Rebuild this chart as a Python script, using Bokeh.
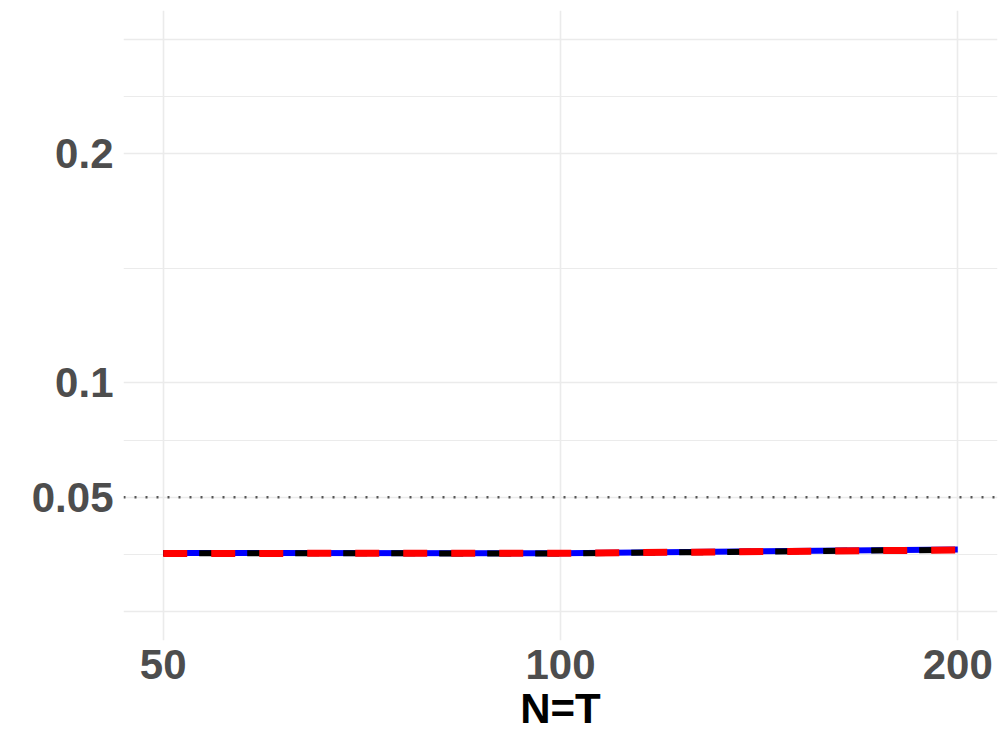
from bokeh.plotting import figure
from bokeh.models import Range1d, FixedTicker, Span, CustomJSTickFormatter
from bokeh.embed import file_html
from bokeh.resources import INLINE

# Data
nt = [50, 100, 200]
black_vals = [0.0256, 0.0255, 0.0271]
blue_vals = [0.0257, 0.0256, 0.0272]
red_vals = [0.0255, 0.0256, 0.0270]
x_ticks = [50, 100, 200]
y_ticks = [0.05, 0.1, 0.2]
y_grid_major = [0.0, 0.05, 0.1, 0.2, 0.25]
y_grid_minor = [0.025, 0.075, 0.15, 0.225]
ref_level = 0.05
x_title = "N=T"

FONT = "Liberation Sans"

p = figure(width=1000, height=745, output_backend="svg", toolbar_location=None,
           x_axis_type="log",
           x_range=Range1d(50 / 2 ** 0.1, 200 * 2 ** 0.1),
           y_range=Range1d(-0.0125, 0.2625),
           min_border_left=123, min_border_right=3, min_border_top=10,
           min_border_bottom=105)
p.outline_line_color = None
p.background_fill_color = "white"
p.border_fill_color = "white"

# grids
p.xgrid.ticker = FixedTicker(ticks=x_ticks)
p.xgrid.grid_line_color = "#ebebeb"
p.xgrid.grid_line_width = 1.6
p.ygrid.ticker = FixedTicker(ticks=y_grid_major, minor_ticks=y_grid_minor)
p.ygrid.grid_line_color = "#ebebeb"
p.ygrid.grid_line_width = 1.6
p.ygrid.minor_grid_line_color = "#ebebeb"
p.ygrid.minor_grid_line_width = 1.2

# axes
for ax in (p.xaxis[0], p.yaxis[0]):
    ax.axis_line_color = None
    ax.major_tick_line_color = None
    ax.minor_tick_line_color = None
    ax.major_tick_in = 0
    ax.major_tick_out = 0
    ax.minor_tick_in = 0
    ax.minor_tick_out = 0
    ax.major_label_text_font = FONT
    ax.major_label_text_font_style = "bold"
    ax.major_label_text_font_size = "42px"
    ax.major_label_text_color = "#4d4d4d"

p.xaxis.ticker = FixedTicker(ticks=x_ticks)
p.xaxis.formatter = CustomJSTickFormatter(code="return tick.toFixed(0);")
p.xaxis.major_label_standoff = 9
p.xaxis.axis_label = x_title
p.xaxis.axis_label_text_font = FONT
p.xaxis.axis_label_text_font_style = "bold"
p.xaxis.axis_label_text_font_size = "42px"
p.xaxis.axis_label_text_color = "black"
p.xaxis.axis_label_standoff = 3

p.yaxis.ticker = FixedTicker(ticks=y_ticks)
p.yaxis.formatter = CustomJSTickFormatter(code="return String(+tick.toFixed(3));")
p.yaxis.major_label_standoff = 10

# reference line
p.add_layout(Span(location=ref_level, dimension="width", line_color="#555555",
                  line_width=2.5, line_dash="2 9"))

# series
p.line(nt, blue_vals, line_color="blue", line_width=6)
p.line(nt, black_vals, line_color="black", line_width=6, line_dash="24 24",
       line_dash_offset=12)
p.line(nt, red_vals, line_color="red", line_width=7, line_dash="24 24")

open("out.html", "w").write(file_html(p, INLINE))
